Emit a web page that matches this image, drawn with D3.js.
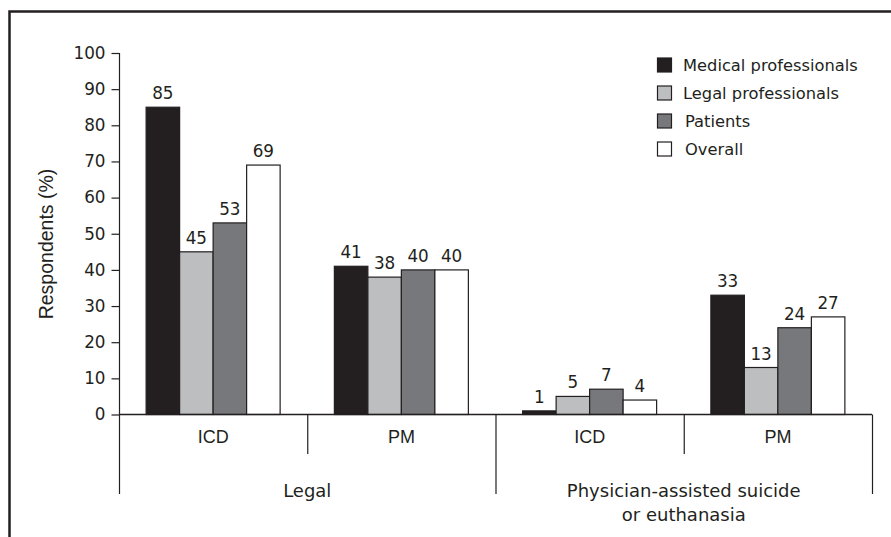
<!DOCTYPE html>
<html>
<head>
<meta charset="utf-8">
<script src="https://cdn.jsdelivr.net/npm/d3@7"></script>
<style>
  html, body { margin: 0; padding: 0; background: #fff; }
  svg { display: block; }
</style>
</head>
<body>
<script>
// ---- Data ----
const groups = ["Legal", "Physician-assisted suicide"];
const groupLines = [["Legal"], ["Physician-assisted suicide", "or euthanasia"]];
const subCategories = ["ICD", "PM"];
const seriesNames = ["Medical professionals", "Legal professionals", "Patients", "Overall"];
const seriesColors = ["#231f20", "#bcbec0", "#77787b", "#ffffff"];
const medical = [85, 41, 1, 33];
const legalProf = [45, 38, 5, 13];
const patients = [53, 40, 7, 24];
const overall = [69, 40, 4, 27];
const yTicks = [0, 10, 20, 30, 40, 50, 60, 70, 80, 90, 100];

const W = 891, H = 537;
const svg = d3.select("body").append("svg").attr("width", W).attr("height", H);

// Frame
svg.append("path")
  .attr("d", `M9.5,${H} L9.5,11.5 L${W},11.5`)
  .attr("fill", "none").attr("stroke", "#231f20").attr("stroke-width", 2.5);

const left = 119, right = 872, yTop = 53, yBase = 414.5;

const cells = [];
groups.forEach((g, gi) => subCategories.forEach((s, si) => cells.push({ g, gi, s, si, key: g + "|" + s })));
const seriesData = [medical, legalProf, patients, overall];

const x0 = d3.scaleBand().domain(cells.map(c => c.key)).range([left, right]).paddingInner(0).paddingOuter(0);
const bw = x0.bandwidth();
const x1 = d3.scaleBand().domain(seriesNames).range([bw / 2 - 67, bw / 2 + 67]).padding(0);
const y = d3.scaleLinear().domain([0, 100]).range([yBase, yTop]);

const xg = d3.scaleBand().domain(groups).range([left, right]);

// Y axis
const yAxis = d3.axisLeft(y).tickValues(yTicks).tickSize(8).tickPadding(6);
const gy = svg.append("g").attr("transform", `translate(${left + 0.5},0)`).call(yAxis);
gy.select(".domain").remove();
gy.selectAll(".tick line").attr("stroke", "#231f20").attr("stroke-width", 1.2);
gy.selectAll(".tick text").attr("font-family", "DejaVu Sans").attr("font-size", 16.8).attr("fill", "#231f20");
svg.append("line").attr("x1", left + 0.5).attr("x2", left + 0.5).attr("y1", yTop).attr("y2", 494)
  .attr("stroke", "#231f20").attr("stroke-width", 1.2);

// Y title
svg.append("text")
  .attr("transform", `translate(53,244) rotate(-90)`)
  .attr("text-anchor", "middle")
  .attr("font-family", "Liberation Sans").attr("font-size", 19.5).attr("fill", "#231f20")
  .text("Respondents (%)");

// Bars
const bars = [];
cells.forEach((c, ci) => seriesNames.forEach((sn, k) => bars.push({ c, sn, k, v: seriesData[k][ci] })));

svg.append("g").selectAll("rect").data(bars).join("rect")
  .attr("x", d => x0(d.c.key) + x1(d.sn))
  .attr("y", d => y(d.v))
  .attr("width", x1.bandwidth())
  .attr("height", d => y(0) - y(d.v))
  .attr("fill", d => seriesColors[d.k])
  .attr("stroke", "#231f20").attr("stroke-width", 1.2);

svg.append("g").selectAll("text").data(bars).join("text")
  .attr("x", d => x0(d.c.key) + x1(d.sn) + x1.bandwidth() / 2)
  .attr("y", d => y(d.v) - 8)
  .attr("text-anchor", "middle")
  .attr("font-family", "DejaVu Sans").attr("font-size", 16.8).attr("fill", "#231f20")
  .text(d => d.v);

// Baseline
svg.append("line").attr("x1", left).attr("x2", right).attr("y1", yBase).attr("y2", yBase)
  .attr("stroke", "#231f20").attr("stroke-width", 1.5);

// Separators
const bounds = cells.map(c => x0(c.key)).concat([right]);
bounds.forEach((bx, i) => {
  const big = (i % subCategories.length === 0);
  if (i === 0) return;
  svg.append("line").attr("x1", bx + 0.5).attr("x2", bx + 0.5).attr("y1", yBase).attr("y2", big ? 494 : 454)
    .attr("stroke", "#231f20").attr("stroke-width", 1.2);
});

// Sub-category labels
svg.append("g").selectAll("text").data(cells).join("text")
  .attr("x", c => x0(c.key) + bw / 2)
  .attr("y", 443)
  .attr("text-anchor", "middle")
  .attr("font-family", "Liberation Sans").attr("font-size", 18).attr("fill", "#231f20")
  .text(c => c.s);

// Group labels
groups.forEach((g, gi) => {
  const t = svg.append("text")
    .attr("x", xg(g) + xg.bandwidth() / 2)
    .attr("y", 497)
    .attr("text-anchor", "middle")
    .attr("font-family", "DejaVu Sans").attr("font-size", 18).attr("fill", "#231f20");
  groupLines[gi].forEach((ln, li) => {
    t.append("tspan").attr("x", xg(g) + xg.bandwidth() / 2).attr("dy", li === 0 ? 0 : 24).text(ln);
  });
});

// Legend
const lg = svg.append("g");
seriesNames.forEach((sn, k) => {
  const cy = 65 + k * 28;
  lg.append("rect").attr("x", 657.5).attr("y", cy - 7).attr("width", 14).attr("height", 14)
    .attr("fill", seriesColors[k]).attr("stroke", "#231f20").attr("stroke-width", 1.2);
  lg.append("text").attr("x", 683 + (k >= 2 ? 2 : 0)).attr("y", cy + 6)
    .attr("font-family", "DejaVu Sans").attr("font-size", 16.3).attr("fill", "#231f20")
    .text(sn);
});
</script>
</body>
</html>
